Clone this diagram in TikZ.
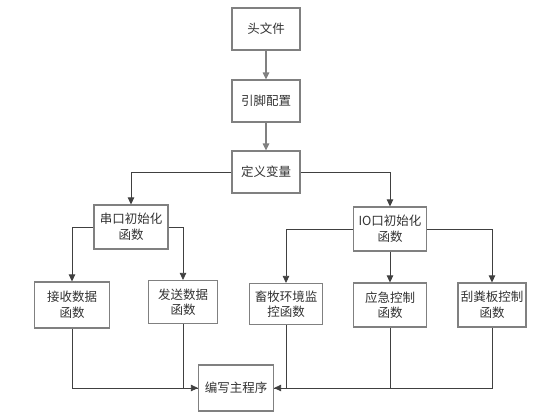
\documentclass[tikz,border=0pt]{standalone}
\usepackage{fontspec}
\setmainfont{Noto Sans CJK SC}
\usepackage{tikz}
\usetikzlibrary{arrows.meta}

\tikzset{
    stepbox/.style={draw=gray, line width=1.2pt, fill=white, align=center,
        text=black!80, inner sep=2pt, font=\fontsize{12.5}{15.5}\selectfont},
    link/.style={draw=black!75, line width=0.8pt},
    arrow/.style={link, -{Triangle[length=7pt,width=6.5pt]}}
}

\begin{document}
\begin{tikzpicture}[x=1pt, y=-1pt]
    \useasboundingbox (0,0) rectangle (533,418);

    % top chain
    \node[stepbox, minimum width=68pt, minimum height=42pt] (head) at (266,29) {头文件};
    \node[stepbox, minimum width=68pt, minimum height=42pt] (pin) at (266,101) {引脚配置};
    \node[stepbox, minimum width=68pt, minimum height=42pt] (var) at (266,172) {定义变量};

    % init boxes
    \node[stepbox, minimum width=74pt, minimum height=44pt] (uart) at (131,227) {串口初始化\\函数};
    \node[stepbox, minimum width=73pt, minimum height=44pt] (io) at (390,229) {IO口初始化\\函数};

    % function boxes
    \node[stepbox, minimum width=75pt, minimum height=46pt] (recv) at (72,305) {接收数据\\函数};
    \node[stepbox, minimum width=69pt, minimum height=43pt] (send) at (183,302) {发送数据\\函数};
    \node[stepbox, minimum width=73pt, minimum height=41pt] (env) at (286,304) {畜牧环境监\\控函数};
    \node[stepbox, minimum width=73pt, minimum height=44pt] (emerg) at (390,305) {应急控制\\函数};
    \node[stepbox, minimum width=68pt, minimum height=44pt] (scrap) at (492,305) {刮粪板控制\\函数};

    % main program
    \node[stepbox, minimum width=75pt, minimum height=46pt] (main) at (236,388) {编写主程序};

    % top arrows
    \draw[arrow, draw=gray, line width=1.2pt] (head) -- (pin);
    \draw[arrow, draw=gray, line width=1.2pt] (pin) -- (var);

    % branches
    \draw[arrow] (var.west) -| (uart.north);
    \draw[arrow] (var.east) -| (io.north);
    \draw[arrow] (uart.west) -| (recv.north);
    \draw[arrow] (uart.east) -| (send.north);
    \draw[arrow] (io.west) -| (env.north);
    \draw[arrow] (io.south) -- (emerg.north);
    \draw[arrow] (io.east) -| (scrap.north);

    % into main program
    \draw[link] (recv.south) |- (main.west);
    \draw[arrow] (send.south) |- (main.west);
    \draw[link] (env.south) |- (main.east);
    \draw[link] (scrap.south) |- (main.east);
    \draw[arrow] (emerg.south) |- (main.east);
\end{tikzpicture}
\end{document}
